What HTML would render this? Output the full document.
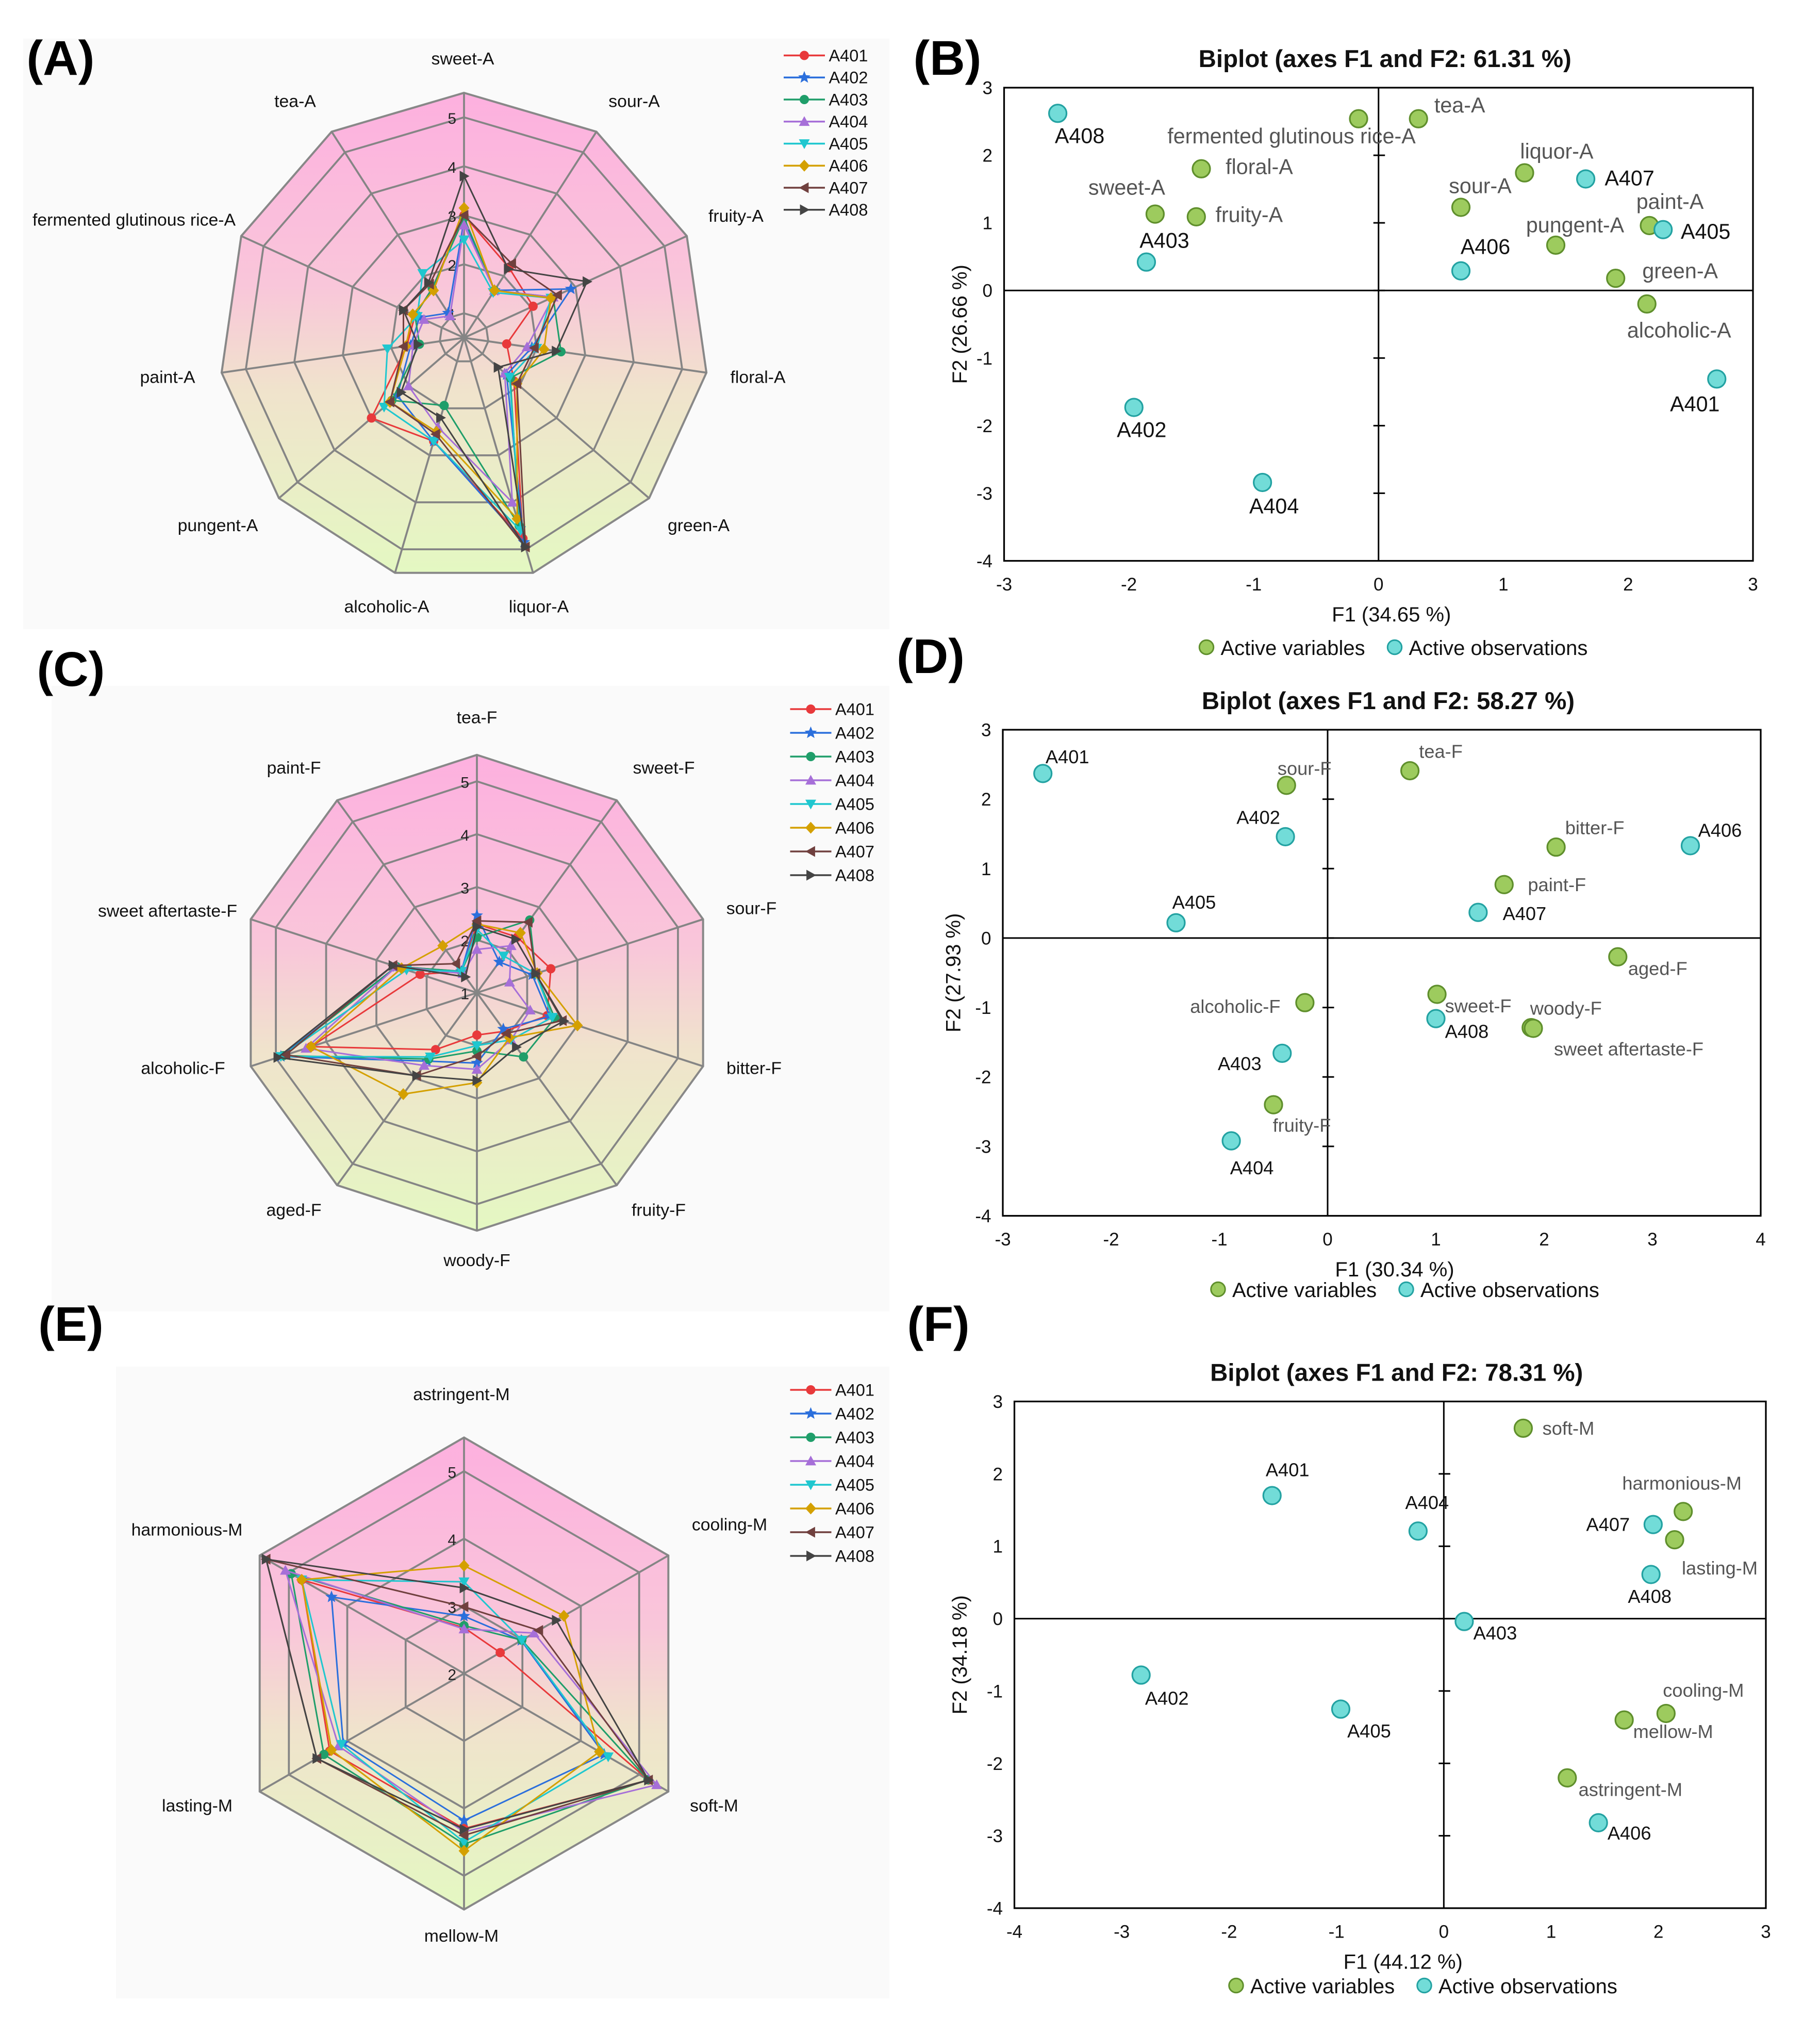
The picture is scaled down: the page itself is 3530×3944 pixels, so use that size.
<!DOCTYPE html>
<html><head><meta charset="utf-8">
<style>
html,body{margin:0;padding:0;background:#fff;}
svg{display:block;font-family:"Liberation Sans",Arial,sans-serif;}
</style></head>
<body>
<svg id="fig" width="3530" height="3944" viewBox="0 0 1412 1577.6" xmlns="http://www.w3.org/2000/svg">
<defs>
<linearGradient id="rg" x1="0" y1="0" x2="0" y2="1">
<stop offset="0" stop-color="#fdb0df"/><stop offset="0.4" stop-color="#f9c6da"/><stop offset="0.62" stop-color="#f0e3cc"/><stop offset="1" stop-color="#e4f8c2"/>
</linearGradient>
</defs>
<rect x="18" y="30" width="672" height="458" fill="#fafafa"/>
<rect x="40" y="532" width="650" height="485" fill="#fafafa"/>
<rect x="90" y="1060" width="600" height="490" fill="#fafafa"/>
<g id="root"></g>
</svg>
<script>
// ---------- Radar A data ----------
const axesA = ["sweet-A","sour-A","fruity-A","floral-A","green-A","liquor-A","alcoholic-A","pungent-A","paint-A","fermented glutinous rice-A","tea-A"];
const aA401 = [3.0,2.2,2.05,1.38,1.85,4.77,2.7,3.0,1.68,1.6,1.7];
const aA402 = [2.9,1.65,2.9,1.9,1.65,4.85,2.7,2.3,1.6,1.5,1.1];
const aA403 = [2.95,1.65,2.5,2.5,1.75,4.5,1.94,2.45,1.42,1.6,1.7];
const aA404 = [2.8,1.65,2.5,1.8,1.6,4.0,2.4,2.0,1.55,1.4,1.03];
const aA405 = [2.5,1.6,2.45,2.0,1.73,4.6,2.7,2.66,2.08,1.55,2.06];
const aA406 = [3.15,1.65,2.45,2.15,1.93,4.35,2.5,2.5,1.7,1.65,1.65];
const aA407 = [3.0,2.3,2.6,1.95,1.93,4.95,2.55,2.5,1.75,1.86,1.8];
const aA408 = [3.8,2.17,3.26,2.4,1.42,4.95,2.2,2.2,1.45,1.86,1.84];
const ticksA = [1,2,3,4,5];
// ---------- Radar C data ----------
const axesC = ["tea-F","sweet-F","sour-F","bitter-F","fruity-F","woody-F","aged-F","alcoholic-F","sweet aftertaste-F","paint-F"];
const cA401 = [2.3,2.3,2.47,2.4,1.9,1.8,2.33,4.3,2.13,1.5];
const cA402 = [2.46,1.72,2.1,2.45,1.85,2.33,2.6,4.9,2.6,1.5];
const cA403 = [2.05,2.7,2.17,2.55,2.5,2.1,2.55,4.85,2.6,1.5];
const cA404 = [1.82,2.1,1.65,2.06,2.1,2.45,2.7,4.4,2.6,1.45];
const cA405 = [2.2,1.86,2.17,2.5,2.1,2.0,2.5,4.9,2.4,1.5];
const cA406 = [2.3,2.4,2.2,3.0,2.05,2.7,3.37,4.3,2.5,2.1];
const cA407 = [2.36,2.65,2.17,2.7,1.95,2.2,2.94,4.8,2.67,1.68];
const cA408 = [2.25,2.25,2.17,2.73,2.27,2.66,2.94,4.96,2.67,1.37];
const ticksC = [1,2,3,4,5];
// ---------- Radar E data ----------
const axesE = ["astringent-M","cooling-M","soft-M","mellow-M","lasting-M","harmonious-M"];
const eA401 = [2.68,2.62,5.16,4.3,4.3,4.78];
const eA402 = [2.85,2.98,4.4,4.18,4.07,4.27];
const eA403 = [2.71,2.99,5.15,4.53,4.4,4.96];
const eA404 = [2.66,3.2,5.3,4.35,4.15,5.06];
const eA405 = [3.36,2.99,4.47,4.5,4.1,4.78];
const eA406 = [3.6,3.71,4.32,4.63,4.27,4.78];
const eA407 = [2.99,3.28,5.16,4.4,4.52,5.39];
const eA408 = [3.27,3.58,5.16,4.31,4.52,5.39];
const ticksE = [2,3,4,5];
const seriesNames = ["A401","A402","A403","A404","A405","A406","A407","A408"];
// ---------- Biplot B data ----------
const bVarNames = ["fermented glutinous rice-A","tea-A","floral-A","sweet-A","fruity-A","sour-A","liquor-A","pungent-A","paint-A","green-A","alcoholic-A"];
const bVarF1 = [-0.16,0.32,-1.42,-1.79,-1.46,0.66,1.17,1.42,2.17,1.9,2.15];
const bVarF2 = [2.54,2.54,1.8,1.13,1.09,1.23,1.74,0.67,0.96,0.18,-0.2];
const bObsNames = ["A408","A403","A407","A405","A406","A401","A402","A404"];
const bObsF1 = [-2.57,-1.86,1.66,2.28,0.66,2.71,-1.96,-0.93];
const bObsF2 = [2.62,0.42,1.65,0.9,0.29,-1.31,-1.73,-2.84];
const bXTicks = [-3,-2,-1,0,1,2,3];
const bYTicks = [3,2,1,0,-1,-2,-3,-4];
// ---------- Biplot D data ----------
const dVarNames = ["tea-F","sour-F","bitter-F","paint-F","aged-F","sweet-F","woody-F","sweet aftertaste-F","alcoholic-F","fruity-F"];
const dVarF1 = [0.76,-0.38,2.11,1.63,2.68,1.01,1.88,1.9,-0.21,-0.5];
const dVarF2 = [2.41,2.2,1.31,0.77,-0.27,-0.81,-1.29,-1.3,-0.93,-2.4];
const dObsNames = ["A401","A402","A405","A406","A407","A408","A403","A404"];
const dObsF1 = [-2.63,-0.39,-1.4,3.35,1.39,1.0,-0.42,-0.89];
const dObsF2 = [2.37,1.46,0.22,1.33,0.37,-1.16,-1.66,-2.92];
const dXTicks = [-3,-2,-1,0,1,2,3,4];
const dYTicks = [3,2,1,0,-1,-2,-3,-4];
// ---------- Biplot F data ----------
const fVarNames = ["soft-M","harmonious-M","lasting-M","cooling-M","mellow-M","astringent-M"];
const fVarF1 = [0.74,2.23,2.15,2.07,1.68,1.15];
const fVarF2 = [2.63,1.48,1.09,-1.31,-1.4,-2.2];
const fObsNames = ["A401","A404","A407","A408","A403","A402","A405","A406"];
const fObsF1 = [-1.6,-0.24,1.95,1.93,0.19,-2.82,-0.96,1.44];
const fObsF2 = [1.7,1.21,1.3,0.61,-0.04,-0.78,-1.25,-2.82];
const fXTicks = [-4,-3,-2,-1,0,1,2,3];
const fYTicks = [3,2,1,0,-1,-2,-3,-4];

// ---------- styling / layout ----------
const colors = ["#e8393b","#2b6fdc","#1f9e6a","#a66fd8","#1fc7cf","#d4a000","#70403e","#444444"];
const markers = ["circle","star","circle","triup","tridown","diamond","trileft","triright"];
const NS = "http://www.w3.org/2000/svg";
const root = document.getElementById("root");
function mk(tag, attrs, parent){const e=document.createElementNS(NS,tag);for(const k in attrs)e.setAttribute(k,attrs[k]);(parent||root).appendChild(e);return e;}
function txt(s, attrs, parent){const e=mk("text",attrs,parent);e.textContent=s;return e;}

function marker(parent,type,x,y,c){
  const s=4.2; let e;
  if(type==="circle"){e=mk("circle",{cx:x,cy:y,r:3.6,fill:c},parent);}
  else{
    let pts;
    if(type==="star"){pts=[];for(let i=0;i<10;i++){const rr=i%2?2.2:5;const a=Math.PI*i/5;pts.push([x+rr*Math.sin(a),y-rr*Math.cos(a)]);}}
    else if(type==="triup")pts=[[x,y-s],[x+s,y+s*0.8],[x-s,y+s*0.8]];
    else if(type==="tridown")pts=[[x,y+s],[x+s,y-s*0.8],[x-s,y-s*0.8]];
    else if(type==="trileft")pts=[[x-s,y],[x+s*0.8,y-s],[x+s*0.8,y+s]];
    else if(type==="triright")pts=[[x+s,y],[x-s*0.8,y-s],[x-s*0.8,y+s]];
    else pts=[[x,y-s*1.1],[x+s,y],[x,y+s*1.1],[x-s,y]];
    e=mk("polygon",{points:pts.map(p=>p.join(",")).join(" "),fill:c},parent);
  }
  return e;
}

function radar(id, cx, cy, vmin, unit, ringVals, ticks, axes, labelPos, values, legX, legY, legDy){
  const g=mk("g",{});
  
  
  const n=axes.length, vmax=5.5;
  const r=v=>(v-vmin)*unit;
  const pt=(i,v)=>{const a=2*Math.PI*i/n;return [cx+r(v)*Math.sin(a), cy-r(v)*Math.cos(a)];};
  const poly=v=>axes.map((_,i)=>pt(i,v).join(",")).join(" ");
  const bg=mk("polygon",{points:poly(vmax),fill:"url(#rg)",stroke:"#888","stroke-width":1.6},g);
  
  
  ringVals.forEach(v=>{
    const ring=mk("polygon",{points:poly(v),fill:"none",stroke:"#858585","stroke-width":1.5},g);
    
    
  });
  axes.forEach((a,i)=>{
    const p=pt(i,vmax);
    const sp=mk("line",{x1:cx,y1:cy,x2:p[0],y2:p[1],stroke:"#858585","stroke-width":1.5},g);
    
    
    const lp=labelPos[i];
    const t=txt(a,{x:lp[0],y:lp[1],"font-size":13.5,"text-anchor":"middle",fill:"#111"},g);
    
    
  });
  ticks.forEach(v=>{
    const t=txt(String(v),{x:cx-6,y:cy-r(v)+5,"font-size":12,"text-anchor":"end",fill:"#222"},g);
    
    
  });
  values.forEach((vals,s)=>{
    const pl=mk("polygon",{points:vals.map((v,i)=>pt(i,v).join(",")).join(" "),fill:"none",stroke:colors[s],"stroke-width":1.2},g);
    
    
    vals.forEach((v,i)=>{
      const p=pt(i,v);
      const m=marker(g,markers[s],p[0],p[1],colors[s]);
      
      
    });
  });
  seriesNames.forEach((nm,s)=>{
    const y=legY+s*legDy;
    const l=mk("line",{x1:legX,y1:y,x2:legX+32,y2:y,stroke:colors[s],"stroke-width":1.4},g);
    
    
    const m=marker(g,markers[s],legX+16,y,colors[s]);
    
    
    const t=txt(nm,{x:legX+35,y:y+4.5,"font-size":13,fill:"#111"},g);
    
    
  });
}

radar("panel-a",360,262,0.5,38,[1,2,3,4,5],ticksA,axesA,
 [[359,50],[492,83],[571,172],[588,297],[542,412],[418,475],[300,475],[169,412],[130,297],[104,175],[229,83]],
 [aA401,aA402,aA403,aA404,aA405,aA406,aA407,aA408],608,43,17.1);
radar("panel-c",370,770,1,41,[2,3,4,5],ticksC,axesC,
 [[370,561],[515,600],[583,709],[585,833],[511,943],[370,982],[228,943],[142,833],[130,711],[228,600]],
 [cA401,cA402,cA403,cA404,cA405,cA406,cA407,cA408],613,550,18.4);
radar("panel-e",360,1298,2,52.3,[3,4,5],ticksE,axesE,
 [[358,1086],[566,1187],[554,1405],[358,1506],[153,1405],[145,1191]],
 [eA401,eA402,eA403,eA404,eA405,eA406,eA407,eA408],613,1078,18.4);

function biplot(id, box, xr, yr, xt, yt, title, xTitle, yTitle, yTitleX, legY, legX,
                vN,vX,vY,vOff, oN,oX,oY,oOff, fs){
  const g=mk("g",{});
  
  
  const [x0,y0,x1,y1]=box;
  const sx=v=>x0+(v-xr[0])/(xr[1]-xr[0])*(x1-x0);
  const sy=v=>y1-(v-yr[0])/(yr[1]-yr[0])*(y1-y0);
  const fr=mk("rect",{x:x0,y:y0,width:x1-x0,height:y1-y0,fill:"none",stroke:"#000","stroke-width":1.3},g);
  
  
  const ax=mk("line",{x1:sx(0),y1:y0,x2:sx(0),y2:y1,stroke:"#000","stroke-width":1.2},g);
  
  
  const ay=mk("line",{x1:x0,y1:sy(0),x2:x1,y2:sy(0),stroke:"#000","stroke-width":1.2},g);
  
  
  yt.forEach(v=>{
    if(v!==yr[0]&&v!==yr[1]){
      const tk=mk("line",{x1:sx(0)-4,y1:sy(v),x2:sx(0)+5,y2:sy(v),stroke:"#000","stroke-width":1.2},g);
      
      
    }
    const t=txt(String(v),{x:x0-9,y:sy(v)+5,"font-size":14,"text-anchor":"end",fill:"#111"},g);
    
    
  });
  xt.forEach(v=>{
    const t=txt(String(v),{x:sx(v),y:y1+23,"font-size":14,"text-anchor":"middle",fill:"#111"},g);
    
    
  });
  const tt=txt(title,{x:(x0+x1)/2+5,y:y0-16,"font-size":19,"font-weight":"bold","text-anchor":"middle",fill:"#111"},g);
  
  
  const xtt=txt(xTitle,{x:(x0+x1)/2+10,y:y1+47,"font-size":16,"text-anchor":"middle",fill:"#111"},g);
  
  
  const yc=(y0+y1)/2;
  const ytt=txt(yTitle,{x:yTitleX,y:yc,"font-size":16,"text-anchor":"middle",fill:"#111",transform:"rotate(-90 "+yTitleX+" "+yc+")"},g);
  
  
  vN.forEach((nm,i)=>{
    const c=mk("circle",{cx:sx(vX[i]),cy:sy(vY[i]),r:6.8,fill:"#9dcb5e",stroke:"#5f8f2c","stroke-width":1.3},g);
    
    
    const o=vOff[i];
    const t=txt(nm,{x:sx(vX[i])+o[0],y:sy(vY[i])+o[1]+5,"font-size":fs,"text-anchor":"middle",fill:"#555"},g);
    
    
  });
  oN.forEach((nm,i)=>{
    const c=mk("circle",{cx:sx(oX[i]),cy:sy(oY[i]),r:6.8,fill:"#72dcd8",stroke:"#23a2a2","stroke-width":1.3},g);
    
    
    const o=oOff[i];
    const t=txt(nm,{x:sx(oX[i])+o[0],y:sy(oY[i])+o[1]+5,"font-size":fs,"text-anchor":"middle",fill:"#111"},g);
    
    
  });
  const lc1=mk("circle",{cx:legX,cy:legY,r:5.5,fill:"#9dcb5e",stroke:"#5f8f2c","stroke-width":1.2},g);
  
  
  const lt1=txt("Active variables",{x:legX+11,y:legY+6,"font-size":16,fill:"#111"},g);
  
  
  const lc2=mk("circle",{cx:legX+146,cy:legY,r:5.5,fill:"#72dcd8",stroke:"#23a2a2","stroke-width":1.2},g);
  
  
  const lt2=txt("Active observations",{x:legX+157,y:legY+6,"font-size":16,fill:"#111"},g);
  
  
}

biplot("panel-b",[779,68,1360,435],[-3,3],[-4,3],bXTicks,bYTicks,
 "Biplot (axes F1 and F2: 61.31 %)","F1 (34.65 %)","F2 (26.66 %)",750,502,936,
 bVarNames,bVarF1,bVarF2,
 [[-52,14],[32,-10],[45,-1],[-22,-20],[41,-1],[15,-16],[25,-16],[15,-15],[16,-18],[50,-5],[25,21]],
 bObsNames,bObsF1,bObsF2,
 [[17,18],[14,-16],[34,0],[33,2],[19,-18],[-17,20],[6,18],[9,19]],16.5);

biplot("panel-d",[778,566,1366,943],[-3,4],[-4,3],dXTicks,dYTicks,
 "Biplot (axes F1 and F2: 58.27 %)","F1 (30.34 %)","F2 (27.93 %)",745,1000,945,
 dVarNames,dVarF1,dVarF2,
 [[24,-15],[14,-13],[30,-15],[41,0],[31,9],[32,9],[27,-15],[74,16],[-54,3],[22,16]],
 dObsNames,dObsF1,dObsF2,
 [[19,-13],[-21,-15],[14,-16],[23,-12],[36,1],[24,10],[-33,8],[16,21]],14.5);

biplot("panel-f",[787,1087,1370,1480],[-4,3],[-4,3],fXTicks,fYTicks,
 "Biplot (axes F1 and F2: 78.31 %)","F1 (44.12 %)","F2 (34.18 %)",750,1540,959,
 fVarNames,fVarF1,fVarF2,
 [[35,0],[-1,-22],[35,22],[29,-18],[38,9],[49,9]],
 fObsNames,fObsF1,fObsF2,
 [[12,-20],[7,-22],[-35,0],[-1,17],[24,9],[20,18],[22,17],[24,8]],14.5);

// panel letters
[["(A)",47,58],["(B)",735,58],["(C)",55,532],["(D)",722,522],["(E)",55,1040],["(F)",728,1040]].forEach(p=>{
  const t=txt(p[0],{x:p[1],y:p[2],"font-size":38,"font-weight":"bold","text-anchor":"middle",fill:"#000"});
  
  
});
</script>
</body></html>
